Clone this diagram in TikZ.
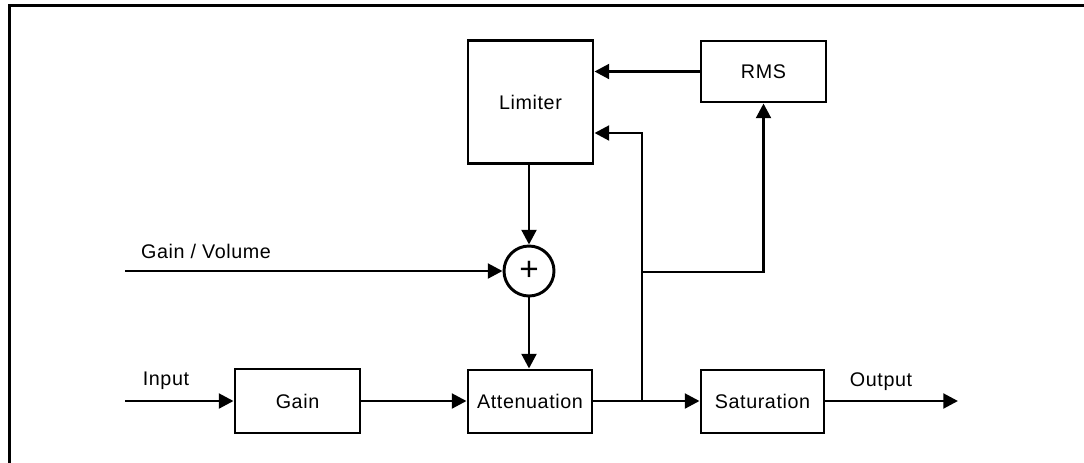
\documentclass[tikz,border=0pt]{standalone}
\usepackage{fontspec}
\setmainfont{Liberation Sans}[LetterSpace=3]
\usetikzlibrary{arrows.meta}
\begin{document}
\begin{tikzpicture}[x=0.75pt,y=-0.75pt,
  blk/.style={draw,line width=2.2pt,rectangle,inner sep=0pt,font=\fontsize{14.8}{16}\selectfont},
  sumnode/.style={draw,line width=2.2pt,circle,minimum size=37.5pt,inner sep=0pt,font=\fontsize{25}{25}\selectfont},
  conn/.style={line width=2.2pt},
  arr/.style={conn,-{Triangle[length=11pt,width=11pt]}},
  lbl/.style={font=\fontsize{14.8}{16}\selectfont,inner sep=0pt},
  frame/.style={line width=1.8pt}]
\useasboundingbox (0,0) rectangle (1084,462);
\draw[frame] (9.5,470) -- (9.5,5.5) -- (1090,5.5);
% blocks
\node[blk,minimum width=93.75pt,minimum height=92.25pt] (lim) at (530.5,102) {Limiter};
\node[blk,minimum width=93.75pt,minimum height=45.75pt] (rms) at (763.5,71.5) {RMS};
\node[blk,minimum width=93.75pt,minimum height=48pt] (gain) at (297.5,401) {Gain};
\node[blk,minimum width=93pt,minimum height=47.25pt] (att) at (530,401.5) {Attenuation};
\node[blk,minimum width=92.25pt,minimum height=47.25pt] (sat) at (762.5,401.5) {Saturation};
\node[sumnode] (sum) at (529,271) {\raisebox{0.5pt}{+}};
% free ends and junctions
\coordinate (in) at (125,401);
\coordinate (gv) at (125,271);
\coordinate (out) at (958,401);
\coordinate (j1) at (642,401);
\coordinate (j2) at (642,272);
\coordinate (k) at (642,133);
% connectors
\draw[arr] (in) -- (gain.west);
\draw[arr] (gain.east) -- (att.west |- gain.east);
\draw[conn] (att.east |- j1) -- (j1);
\draw[arr] (j1) -- (sat.west |- j1);
\draw[arr] (sat.east |- out) -- (out);
\draw[arr] (lim.south -| sum.north) -- (sum.north);
\draw[arr] (gv) -- (sum.west);
\draw[arr] (sum.south) -- (att.north -| sum.south);
\draw[arr] (rms.west) -- (rms.west -| lim.east);
\draw[arr] (j1) -- (k) -- (k -| lim.east);
\draw[arr] (j2) -| (rms.south);
% labels
\node[lbl] (linput) at (166,381) {Input};
\node[lbl] (lgv) at (206,251) {Gain / Volume};
\node[lbl] (lout) at (881,382) {Output};
\end{tikzpicture}
\end{document}
